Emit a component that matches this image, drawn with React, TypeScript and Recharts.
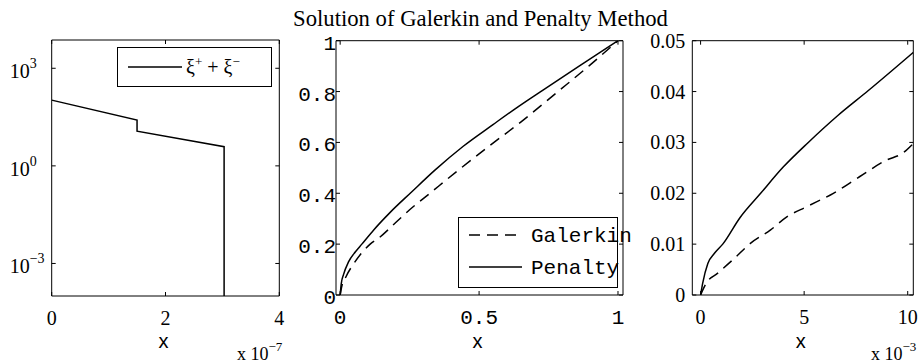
import React from 'react';
import { LineChart, Line, XAxis, YAxis, Legend, Label } from 'recharts';

// ---------- data ----------
// Panel 1: xi+ + xi-  (x in units of 1e-7)
const xiX = [0, 1.5, 1.5, 3.03, 3.03];
const xiY = [105, 25.7, 11.7, 3.9, 1e-8];

// Panel 2: full solution on [0,1]
const galX = [0, 0.005, 0.02, 0.05, 0.108, 0.14, 0.2, 0.25, 0.323, 0.43, 0.539, 0.65, 0.784, 0.9, 1];
const galY = [0, 0.03, 0.07, 0.125, 0.2, 0.225, 0.285, 0.335, 0.4, 0.495, 0.588, 0.68, 0.8, 0.905, 1];
const penX = [0, 0.004, 0.012, 0.03, 0.055, 0.078, 0.12, 0.18, 0.257, 0.34, 0.443, 0.55, 0.64, 0.73, 0.86, 1];
const penY = [0, 0.045, 0.08, 0.13, 0.17, 0.2, 0.255, 0.325, 0.405, 0.49, 0.585, 0.67, 0.74, 0.806, 0.9, 1];

// Panel 3: zoom near 0 (x in units of 1e-3)
const galZX = [0, 0.27, 0.83, 1.55, 2.42, 3.38, 4.18, 5.14, 6.41, 7.69, 8.96, 9.76, 10.27];
const galZY = [0, 0.0023, 0.0043, 0.0069, 0.0102, 0.0128, 0.0154, 0.0174, 0.02, 0.0233, 0.0265, 0.0279, 0.0298];
const penZX = [0, 0.1, 0.35, 0.67, 1.07, 1.9, 2.9, 4.0, 5.2, 6.6, 8.1, 10.27];
const penZY = [0, 0.0023, 0.0062, 0.0082, 0.01, 0.0152, 0.02, 0.0252, 0.03, 0.0352, 0.0402, 0.0477];

// ticks
const x1Ticks = [0, 2, 4];
const y1Ticks = [1e-3, 1, 1e3];
const x2Ticks = [0, 0.5, 1];
const y2Ticks = [0, 0.2, 0.4, 0.6, 0.8, 1];
const x3Ticks = [0, 5, 10];
const y3Ticks = [0, 0.01, 0.02, 0.03, 0.04, 0.05];

const title = 'Solution of Galerkin and Penalty Method';
const seriesNames = ['Galerkin', 'Penalty'];

const zip = (xs: number[], ys: number[]) => xs.map((x, i) => ({ x, y: ys[i] }));
const xiData = zip(xiX, xiY);
const galData = zip(galX, galY);
const penData = zip(penX, penY);
const galZData = zip(galZX, galZY);
const penZData = zip(penZX, penZY);

// ---------- style ----------
const SERIF = "'Liberation Serif', 'Times New Roman', serif";
const MONO = "'Liberation Mono', 'Courier New', monospace";
const SANS = "'Liberation Sans', Arial, sans-serif";
const W = 918;
const H = 363;
const TL = 4;
const DASH = '11 7';

const fmtNum = (v: number) => String(v);

const makeBottomTick = (font: string, fs: number) => (p: any) => (
  <g>
    <line x1={p.x} x2={p.x} y1={p.y} y2={p.y - TL} stroke="#000" />
    <text x={p.x} y={p.y + 29} textAnchor="middle" fontFamily={font} fontSize={fs} fill="#000">
      {fmtNum(p.payload.value)}
    </text>
  </g>
);
const topTick = (p: any) => <line x1={p.x} x2={p.x} y1={p.y} y2={p.y + TL} stroke="#000" />;
const rightTick = (p: any) => <line x1={p.x} x2={p.x - TL} y1={p.y} y2={p.y} stroke="#000" />;
const makeLeftTick = (font: string, fs: number, gap: number, base: number) => (p: any) => (
  <g>
    <line x1={p.x} x2={p.x + TL} y1={p.y} y2={p.y} stroke="#000" />
    <text x={p.x - gap} y={p.y + base} textAnchor="end" fontFamily={font} fontSize={fs} fill="#000">
      {fmtNum(p.payload.value)}
    </text>
  </g>
);
const logLeftTick = (p: any) => {
  const e = Math.round(Math.log10(p.payload.value));
  const sup = e < 0 ? '\u2212' + Math.abs(e) : String(e);
  return (
    <g>
      <line x1={p.x} x2={p.x + TL} y1={p.y} y2={p.y} stroke="#000" />
      <text x={p.x - 22} y={p.y + 10} textAnchor="end" fontFamily={SERIF} fontSize={20} fill="#000">10</text>
      <text x={p.x - 22} y={p.y} textAnchor="start" fontFamily={SERIF} fontSize={14} fill="#000">{sup}</text>
    </g>
  );
};

const xLabel = (exp: string | null) => (props: any) => {
  const vb = props.viewBox;
  const cx = vb.x + vb.width / 2;
  const right = vb.x + vb.width;
  return (
    <g>
      <text x={cx - 2} y={348} textAnchor="middle" fontFamily={SANS} fontSize={20} fill="#000">x</text>
      {exp && (
        <text x={right + 3} y={360} textAnchor="end" fontFamily={SERIF} fontSize={18} fill="#000">
          x 10<tspan dy={-9} fontSize={13}>{exp}</tspan>
        </text>
      )}
    </g>
  );
};

const legendXi = () => (
  <svg width={155} height={40} style={{ display: 'block', overflow: 'visible' }}>
    <rect x={0.5} y={0.5} width={154} height={39} fill="#fff" stroke="#000" />
    <line x1={11} x2={65} y1={20} y2={20} stroke="#000" strokeWidth={1.5} />
    <text x={69} y={27} fontFamily={SERIF} fontSize={20} fill="#000">
      ξ<tspan dy={-8} fontSize={13}>+</tspan>
      <tspan dy={8}>{' + ξ'}</tspan>
      <tspan dy={-8} fontSize={13}>{'\u2212'}</tspan>
    </text>
  </svg>
);

const legendGP = (props: any) => {
  const items = (props.payload || []) as any[];
  return (
    <svg width={160} height={71} style={{ display: 'block', overflow: 'visible' }}>
      <rect x={0.5} y={0.5} width={159} height={70} fill="#fff" stroke="#000" />
      {items.map((it: any, i: number) => (
        <g key={i}>
          <line
            x1={11}
            x2={64}
            y1={18 + i * 32}
            y2={18 + i * 32}
            stroke="#000"
            strokeWidth={1.5}
            strokeDasharray={it.payload && it.payload.strokeDasharray}
          />
          <text x={73} y={25 + i * 32} fontFamily={MONO} fontSize={21} fill="#000">
            {it.value}
          </text>
        </g>
      ))}
    </svg>
  );
};

const abs: React.CSSProperties = { position: 'absolute', left: 0, top: 0 };
// axes are 1px thick boxes; margins are set so the plot area is exactly [l,r]x[t,b]
const mg = (l: number, r: number, t: number, b: number) => ({ left: l - 1, right: W - r - 1, top: t - 1, bottom: H - b - 1 });

const axisCommon = {
  tickSize: 0,
  tickMargin: 0,
  tickLine: false,
  axisLine: { stroke: '#000' },
  interval: 0 as const,
  allowDataOverflow: true,
};

export default function App() {
  return (
    <div style={{ position: 'absolute', left: 0, top: 0, width: W, height: H, background: '#fff' }}>
      <svg width={W} height={H} style={abs}>
        <text x={480.5} y={26} textAnchor="middle" fontFamily={SERIF} fontSize={22.7} fill="#000">{title}</text>
      </svg>

      {/* Panel 1 */}
      <LineChart width={W} height={H} margin={mg(51.7, 279.3, 40, 296)} style={abs}>
        <XAxis dataKey="x" type="number" domain={[0, 4]} ticks={x1Ticks} height={1} {...axisCommon}
          tick={makeBottomTick(SERIF, 20)}>
          <Label content={xLabel('\u22127')} />
        </XAxis>
        <XAxis xAxisId="top" orientation="top" dataKey="x" type="number" domain={[0, 4]} ticks={x1Ticks}
          height={1} {...axisCommon} tick={topTick} />
        <YAxis type="number" scale="log" domain={[1e-4, 7400]} ticks={y1Ticks} width={1} {...axisCommon}
          tick={logLeftTick} />
        <YAxis yAxisId="right" orientation="right" type="number" scale="log" domain={[1e-4, 7400]} ticks={y1Ticks}
          width={1} {...axisCommon} tick={rightTick} />
        <Line data={xiData} dataKey="y" name="ξ+ + ξ−" stroke="#000" strokeWidth={1.5} dot={false}
          isAnimationActive={false} type="linear" />
        <Legend layout="vertical" align="center" verticalAlign="middle" content={legendXi}
          wrapperStyle={{ position: 'absolute', left: 117, top: 47, width: 155, height: 40 }} />
      </LineChart>

      {/* Panel 2 */}
      <LineChart width={W} height={H} margin={mg(336, 623, 40.7, 295)} style={abs}>
        <XAxis dataKey="x" type="number" domain={[-0.015, 1.018]} ticks={x2Ticks} height={1} {...axisCommon}
          tick={makeBottomTick(MONO, 21)}>
          <Label content={xLabel(null)} />
        </XAxis>
        <XAxis xAxisId="top" orientation="top" dataKey="x" type="number" domain={[-0.015, 1.018]} ticks={x2Ticks}
          height={1} {...axisCommon} tick={topTick} />
        <YAxis type="number" domain={[0, 1]} ticks={y2Ticks} width={1} {...axisCommon}
          tick={makeLeftTick(MONO, 21, 0, 9)} />
        <YAxis yAxisId="right" orientation="right" type="number" domain={[0, 1]} ticks={y2Ticks}
          width={1} {...axisCommon} tick={rightTick} />
        <Line data={galData} dataKey="y" name={seriesNames[0]} stroke="#000" strokeWidth={1.5}
          strokeDasharray={DASH} dot={false} isAnimationActive={false} type="monotone" />
        <Line data={penData} dataKey="y" name={seriesNames[1]} stroke="#000" strokeWidth={1.5}
          dot={false} isAnimationActive={false} type="monotone" />
        <Legend layout="vertical" align="center" verticalAlign="middle" content={legendGP}
          wrapperStyle={{ position: 'absolute', left: 458, top: 217, width: 160, height: 71 }} />
      </LineChart>

      {/* Panel 3 */}
      <LineChart width={W} height={H} margin={mg(692.3, 913.3, 40.7, 295)} style={abs}>
        <XAxis dataKey="x" type="number" domain={[-0.4, 10.27]} ticks={x3Ticks} height={1} {...axisCommon}
          tick={makeBottomTick(SERIF, 20)}>
          <Label content={xLabel('\u22123')} />
        </XAxis>
        <XAxis xAxisId="top" orientation="top" dataKey="x" type="number" domain={[-0.4, 10.27]} ticks={x3Ticks}
          height={1} {...axisCommon} tick={topTick} />
        <YAxis type="number" domain={[0, 0.05]} ticks={y3Ticks} width={1} {...axisCommon}
          tick={makeLeftTick(SERIF, 20, 7, 7)} />
        <YAxis yAxisId="right" orientation="right" type="number" domain={[0, 0.05]} ticks={y3Ticks}
          width={1} {...axisCommon} tick={rightTick} />
        <Line data={galZData} dataKey="y" name={seriesNames[0]} stroke="#000" strokeWidth={1.5}
          strokeDasharray={DASH} dot={false} isAnimationActive={false} type="monotone" />
        <Line data={penZData} dataKey="y" name={seriesNames[1]} stroke="#000" strokeWidth={1.5}
          dot={false} isAnimationActive={false} type="monotone" />
      </LineChart>
    </div>
  );
}
